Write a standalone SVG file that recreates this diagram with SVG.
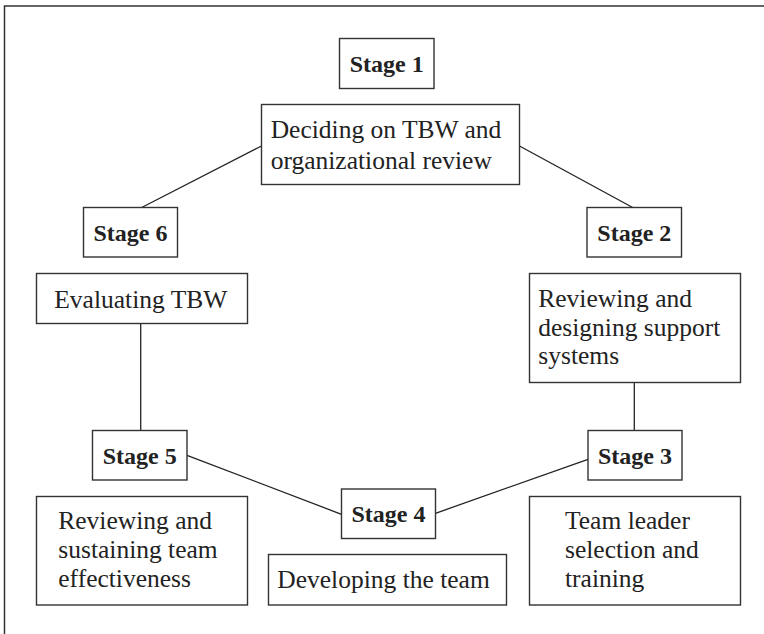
<svg xmlns="http://www.w3.org/2000/svg" width="764" height="634" viewBox="0 0 764 634">
<style>
.box{fill:#fff;stroke:#333;stroke-width:1.4}
.frame{fill:none;stroke:#333;stroke-width:1.5}
.conn line{stroke:#222;stroke-width:1.3}
.stage{font-family:"Liberation Serif",serif;font-weight:bold;font-size:24px;fill:#222;text-anchor:middle}
.txt{font-family:"Liberation Serif",serif;font-size:25.5px;fill:#222}
</style>
<rect width="764" height="634" fill="#fff"/>
<path class="frame" d="M4.5,634 V6 H764"/>
<g id="connectors" class="conn">
<line x1="141.7" y1="207.5" x2="261.5" y2="146"/>
<line x1="519.5" y1="146" x2="632.7" y2="207.5"/>
<line x1="140.7" y1="323.5" x2="140.7" y2="430.5"/>
<line x1="634.3" y1="382.5" x2="634.3" y2="430.5"/>
<line x1="187" y1="455.3" x2="341.5" y2="514.3"/>
<line x1="588" y1="459.3" x2="435.5" y2="513.3"/>
</g>
<g id="stage1"><rect class="box" x="339.5" y="38.5" width="94.5" height="50"/><text class="stage" x="386.7" y="72">Stage 1</text></g>
<g id="stage2"><rect class="box" x="587" y="207.5" width="94.5" height="49.5"/><text class="stage" x="634.3" y="241">Stage 2</text></g>
<g id="stage3"><rect class="box" x="588" y="430.5" width="94" height="49.5"/><text class="stage" x="635" y="463.5">Stage 3</text></g>
<g id="stage4"><rect class="box" x="341.5" y="489" width="94" height="49.5"/><text class="stage" x="388.5" y="522">Stage 4</text></g>
<g id="stage5"><rect class="box" x="92.5" y="430.5" width="94.5" height="49.5"/><text class="stage" x="139.7" y="463.5">Stage 5</text></g>
<g id="stage6"><rect class="box" x="83.5" y="207.5" width="94" height="49.5"/><text class="stage" x="130.5" y="241">Stage 6</text></g>
<g id="deciding"><rect class="box" x="261.5" y="104.5" width="258" height="80"/><text class="txt" x="270.7" y="137.7">Deciding on TBW and</text><text class="txt" x="270.7" y="169.3">organizational review</text></g>
<g id="reviewing-support"><rect class="box" x="529.5" y="273.5" width="211" height="109"/><text class="txt" x="538.3" y="306.7">Reviewing and</text><text class="txt" x="538.3" y="335.7">designing support</text><text class="txt" x="538.3" y="364.3">systems</text></g>
<g id="team-leader"><rect class="box" x="529.5" y="496.5" width="211" height="108.5"/><text class="txt" x="565" y="529">Team leader</text><text class="txt" x="565" y="558">selection and</text><text class="txt" x="565" y="587">training</text></g>
<g id="developing"><rect class="box" x="268.5" y="554.5" width="238" height="50.5"/><text class="txt" x="277.3" y="588">Developing the team</text></g>
<g id="sustaining"><rect class="box" x="36.5" y="496.5" width="211" height="108.5"/><text class="txt" x="58.3" y="529">Reviewing and</text><text class="txt" x="58.3" y="558.3">sustaining team</text><text class="txt" x="58.3" y="587.3">effectiveness</text></g>
<g id="evaluating"><rect class="box" x="36.5" y="273.5" width="211" height="50"/><text class="txt" x="54.3" y="307.7">Evaluating TBW</text></g>
</svg>
